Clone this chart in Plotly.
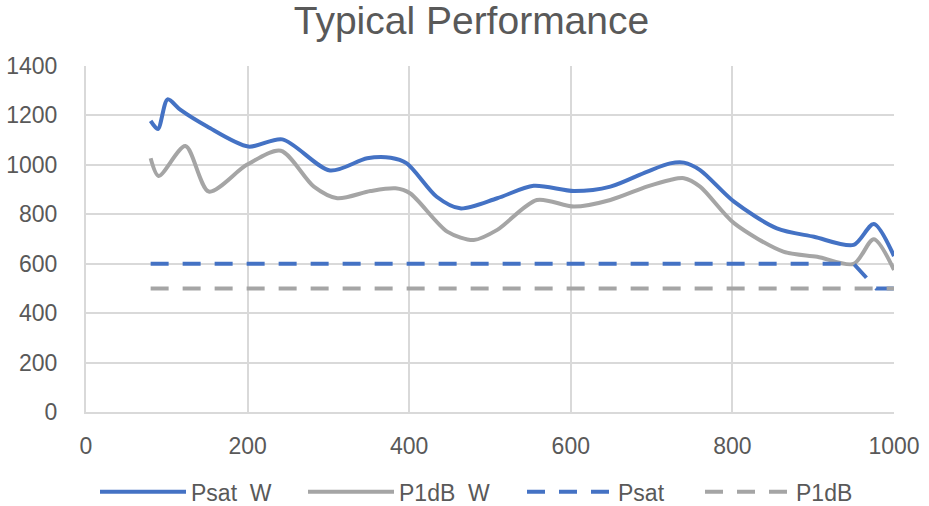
import plotly.graph_objects as go

# Psat W (blue solid)
psat_w_x = [80, 89, 101, 117, 150, 201, 243, 302, 348, 377, 397, 434, 463, 509, 554, 604, 649, 694, 723, 740, 760, 802, 855, 901, 950, 975, 1000]
psat_w_y = [1178, 1145, 1265, 1222, 1155, 1074, 1103, 977, 1027, 1029, 1006, 871, 824, 865, 915, 894, 912, 972, 1006, 1009, 979, 851, 743, 709, 676, 761, 631]

# P1dB W (gray solid)
p1db_w_x = [80, 90, 123, 152, 199, 241, 282, 311, 352, 383, 401, 447, 480, 509, 558, 604, 649, 694, 723, 740, 760, 802, 863, 905, 950, 975, 1000]
p1db_w_y = [1027, 955, 1076, 892, 1000, 1057, 912, 865, 894, 905, 885, 730, 696, 737, 858, 831, 858, 912, 939, 946, 912, 764, 649, 628, 599, 699, 575]

# Psat (blue dashed)
psat_x = [80, 950, 978, 1000]
psat_y = [600, 600, 500, 500]

# P1dB (gray dashed)
p1db_x = [80, 1000]
p1db_y = [500, 500]

x_ticks = [0, 200, 400, 600, 800, 1000]
y_ticks = [0, 200, 400, 600, 800, 1000, 1200, 1400]

BLUE = "#4472C4"
GRAY = "#A5A5A5"
TXT = "#595959"
GRID = "#D9D9D9"

fig = go.Figure()
fig.add_trace(go.Scatter(x=psat_w_x, y=psat_w_y, mode="lines", name="Psat  W", legend="legend",
                         line=dict(color=BLUE, width=4, shape="spline", smoothing=0.8)))
fig.add_trace(go.Scatter(x=p1db_w_x, y=p1db_w_y, mode="lines", name="P1dB  W", legend="legend2",
                         line=dict(color=GRAY, width=4, shape="spline", smoothing=0.8)))
fig.add_trace(go.Scatter(x=psat_x, y=psat_y, mode="lines", name="Psat", legend="legend3",
                         line=dict(color=BLUE, width=4, dash="18px,14px")))
fig.add_trace(go.Scatter(x=p1db_x, y=p1db_y, mode="lines", name="P1dB", legend="legend4",
                         line=dict(color=GRAY, width=4, dash="18px,14px")))

W = 929.0


def leg(px):
    return dict(orientation="h", xref="container", x=px / W, xanchor="left",
                yref="container", y=0.028, yanchor="middle",
                font=dict(size=23, color=TXT), itemwidth=86, bgcolor="rgba(0,0,0,0)")


fig.update_layout(
    width=929, height=506,
    margin=dict(l=86, r=35, t=66, b=94, autoexpand=False),
    paper_bgcolor="white", plot_bgcolor="white",
    font=dict(family="Liberation Sans", color=TXT, size=23),
    title=dict(text="Typical Performance", xref="container", x=0.5075, xanchor="center",
               yref="container", y=0.9605, yanchor="middle",
               font=dict(size=39, color=TXT)),
    showlegend=True,
    legend=leg(95), legend2=leg(303), legend3=leg(522), legend4=leg(700),
    xaxis=dict(range=[0, 1000], tickvals=x_ticks, ticktext=[str(v) for v in x_ticks],
               showgrid=True, gridcolor=GRID, gridwidth=2, zeroline=False,
               showline=True, linecolor=GRID, linewidth=2, ticks="", ticklen=0,
               ticklabelstandoff=12, automargin=False,
               tickfont=dict(size=23, color=TXT)),
    yaxis=dict(range=[0, 1400], tickvals=y_ticks, ticktext=[str(v) for v in y_ticks],
               showgrid=True, gridcolor=GRID, gridwidth=2, zeroline=False,
               showline=True, linecolor=GRID, linewidth=2, ticks="", ticklen=0,
               ticklabelstandoff=22, automargin=False,
               tickfont=dict(size=23, color=TXT)),
)

fig.write_html("out.html", config={"displayModeBar": False},
               post_script="document.body.style.margin='0';")
